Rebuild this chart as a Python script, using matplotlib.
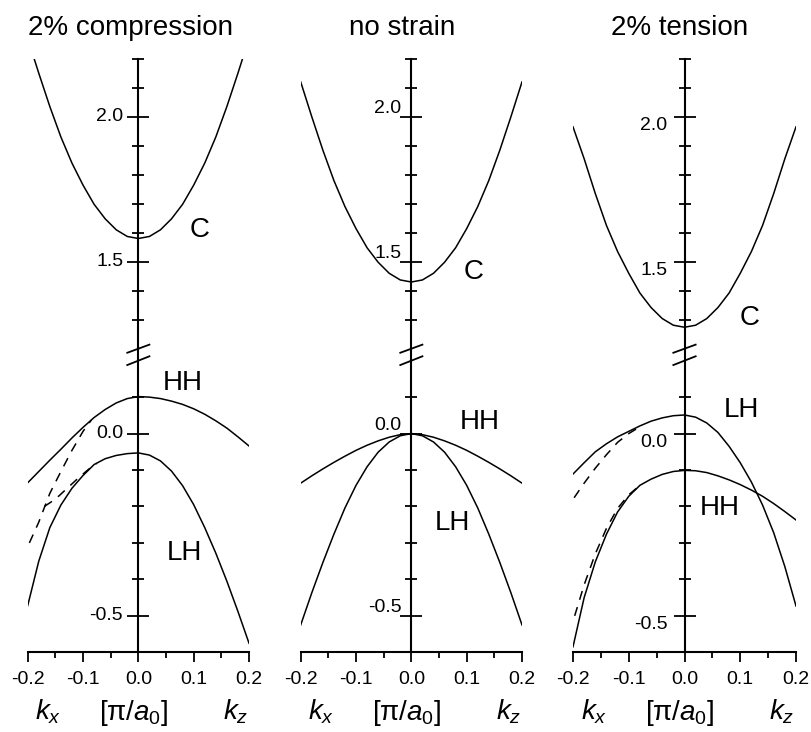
"""
Band dispersion near the zone centre (C, HH, LH) for 2% compression,
no strain and 2% tension, drawn with a broken energy axis.
"""

import matplotlib
matplotlib.use("Agg")
import matplotlib.pyplot as plt

PLOT_FILE = "out.png"

plt.rcParams["font.family"] = ["Liberation Sans", "DejaVu Sans"]
plt.rcParams["mathtext.fontset"] = "custom"
plt.rcParams["mathtext.rm"] = "Liberation Sans"
plt.rcParams["mathtext.it"] = "Liberation Sans:italic"
plt.rcParams["axes.unicode_minus"] = False

TITLES = ["2% compression", "no strain", "2% tension"]

# wave vector in pi/a0 (left half is kx, right half is kz)
K = [-0.20, -0.18, -0.16, -0.14, -0.12, -0.10, -0.08, -0.06, -0.04, -0.02, 0.00,
     0.02, 0.04, 0.06, 0.08, 0.10, 0.12, 0.14, 0.16, 0.18, 0.20]

# conduction band (eV)
C_COMP = [2.27, 2.15, 2.035, 1.93, 1.84, 1.764, 1.698, 1.648, 1.61, 1.587, 1.58,
          1.587, 1.61, 1.648, 1.698, 1.764, 1.84, 1.93, 2.035, 2.15, 2.27]
C_NONE = [2.12, 2.0, 1.885, 1.78, 1.69, 1.614, 1.548, 1.498, 1.46, 1.437, 1.43,
          1.437, 1.46, 1.498, 1.548, 1.614, 1.69, 1.78, 1.885, 2.0, 2.12]
C_TENS = [1.965, 1.855, 1.735, 1.625, 1.535, 1.46, 1.392, 1.342, 1.304, 1.281, 1.274,
          1.281, 1.304, 1.342, 1.392, 1.46, 1.535, 1.625, 1.735, 1.855, 1.965]

# valence bands (eV)
HH_COMP = [-0.135, -0.104, -0.073, -0.043, -0.012, 0.017, 0.044, 0.066, 0.084, 0.096, 0.1015,
           0.100, 0.096, 0.089, 0.080, 0.068, 0.053, 0.035, 0.015, -0.009, -0.034]
LH_COMP = [-0.472, -0.35, -0.258, -0.196, -0.150, -0.115, -0.085, -0.069, -0.060, -0.055, -0.053,
           -0.059, -0.075, -0.103, -0.143, -0.195, -0.258, -0.328, -0.405, -0.488, -0.575]
HH_NONE = [-0.136, -0.116, -0.097, -0.079, -0.062, -0.046, -0.032, -0.020, -0.010, -0.003, 0.0,
           -0.003, -0.010, -0.020, -0.032, -0.046, -0.062, -0.079, -0.097, -0.116, -0.136]
LH_NONE = [-0.525, -0.437, -0.354, -0.276, -0.204, -0.142, -0.091, -0.051, -0.023, -0.006, 0.0,
           -0.006, -0.023, -0.051, -0.091, -0.142, -0.204, -0.276, -0.354, -0.437, -0.525]
LH_TENS = [-0.111, -0.080, -0.050, -0.028, -0.009, 0.006, 0.021, 0.034, 0.043, 0.049, 0.051,
           0.045, 0.029, 0.003, -0.035, -0.080, -0.133, -0.196, -0.272, -0.365, -0.473]
HH_TENS = [-0.585, -0.45, -0.352, -0.276, -0.215, -0.172, -0.142, -0.125, -0.112, -0.104, -0.101,
           -0.102, -0.107, -0.116, -0.127, -0.140, -0.155, -0.172, -0.192, -0.214, -0.237]

# dashed kx curves (other model)
K_COMP_D1 = [-0.197, -0.18, -0.16, -0.14, -0.12, -0.10, -0.085]
E_COMP_D1 = [-0.300, -0.243, -0.164, -0.104, -0.046, 0.006, 0.037]
K_COMP_D2 = [-0.17, -0.15, -0.13, -0.11, -0.09, -0.075]
E_COMP_D2 = [-0.200, -0.180, -0.152, -0.124, -0.098, -0.082]
K_TENS_D1 = [-0.198, -0.18, -0.16, -0.14, -0.12, -0.10, -0.085, -0.075]
E_TENS_D1 = [-0.176, -0.136, -0.095, -0.058, -0.024, 0.0, 0.014, 0.022]
K_TENS_D2 = [-0.197, -0.18, -0.16, -0.14, -0.12, -0.10, -0.08]
E_TENS_D2 = [-0.50, -0.415, -0.33, -0.26, -0.205, -0.168, -0.142]

# band labels: (text, k, E)
LABELS_UP = [("C", 0.11, 1.61), ("C", 0.112, 1.464), ("C", 0.116, 1.306)]
LABELS_LO = [
    [("HH", 0.081, 0.139), ("LH", 0.084, -0.328)],
    [("HH", 0.124, 0.032), ("LH", 0.074, -0.245)],
    [("LH", 0.103, 0.064), ("HH", 0.064, -0.204)],
]

# layout in pixels
FIG_W, FIG_H = 811, 732
PANEL_LEFT = [27.7, 300.7, 573.0]
PANEL_WIDTH = [221.3, 221.3, 223.0]
UP_BOTTOM_PX, UP_TOP_PX = 348.7, 58.7
LO_BOTTOM_PX, LO_TOP_PX = 652.3, 349.0
LABEL_VA = ["center", "bottom", "top"]
LABEL_PAD = [3.0, -0.7, 4.3]
TITLE_X = [131, 402.5, 679.5]


def style_energy_axis(ax, i, major, minor):
    ax.set_xlim(-0.2, 0.2)
    ax.patch.set_visible(False)
    for side in ("top", "right"):
        ax.spines[side].set_visible(False)
    ax.spines["left"].set_position(("data", 0))
    ax.spines["left"].set_linewidth(1.5)
    ax.spines["bottom"].set_linewidth(1.5)
    ax.set_yticks(major)
    ax.set_yticklabels(["%.1f" % v for v in major])
    ax.set_yticks(minor, minor=True)
    ax.tick_params(axis="y", which="both", direction="inout", width=1.3,
                   labelsize=14, pad=LABEL_PAD[i])
    ax.tick_params(axis="y", which="major", length=15.8)
    ax.tick_params(axis="y", which="minor", length=8.6)
    for lab in ax.get_yticklabels():
        lab.set_va(LABEL_VA[i])


def draw_panel(fig, i, cond, solid, dashed):
    left = PANEL_LEFT[i] / FIG_W
    width = PANEL_WIDTH[i] / FIG_W
    ax_up = fig.add_axes([left, (FIG_H - UP_BOTTOM_PX) / FIG_H, width,
                          (UP_BOTTOM_PX - UP_TOP_PX) / FIG_H])
    ax_lo = fig.add_axes([left, (FIG_H - LO_BOTTOM_PX) / FIG_H, width,
                          (LO_BOTTOM_PX - LO_TOP_PX) / FIG_H])

    # upper part: conduction band
    ax_up.set_ylim(1.2, 2.2)
    style_energy_axis(ax_up, i, [1.5, 2.0], [1.3, 1.4, 1.6, 1.7, 1.8, 1.9, 2.1, 2.2])
    ax_up.spines["bottom"].set_visible(False)
    ax_up.set_xticks([])
    ax_up.plot(K, cond, color="black", lw=1.1)
    txt, kx, en = LABELS_UP[i]
    ax_up.text(kx, en, txt, fontsize=20, ha="center", va="center")

    # lower part: valence bands
    ax_lo.set_ylim(-0.6, 0.232)
    style_energy_axis(ax_lo, i, [-0.5, 0.0], [-0.4, -0.3, -0.2, -0.1, 0.1])
    for band in solid:
        ax_lo.plot(K, band, color="black", lw=1.1)
    for kk, ee in dashed:
        ax_lo.plot(kk, ee, color="black", lw=1.1, dashes=(6, 5))
    for txt, kx, en in LABELS_LO[i]:
        ax_lo.text(kx, en, txt, fontsize=20, ha="center", va="center")

    ax_lo.set_xticks([-0.2, -0.1, 0.0, 0.1, 0.2])
    ax_lo.set_xticklabels(["-0.2", "-0.1", "0.0", "0.1", "0.2"])
    ax_lo.set_xticks([-0.15, -0.05, 0.05, 0.15], minor=True)
    ax_lo.tick_params(axis="x", which="both", direction="out", width=1.3,
                      labelsize=14, pad=6.2)
    ax_lo.tick_params(axis="x", which="major", length=7.2)
    ax_lo.tick_params(axis="x", which="minor", length=4.3)

    # axis break marks
    ax_up.plot([-0.02, 0.02], [1.186, 1.214], color="black", lw=1.3, clip_on=False)
    ax_lo.plot([-0.02, 0.02], [0.188, 0.212], color="black", lw=1.3, clip_on=False)

    # title and k-axis captions
    fig.text(TITLE_X[i] / FIG_W, (FIG_H - 35) / FIG_H, TITLES[i],
             fontsize=20, ha="center", va="baseline")
    centre = PANEL_LEFT[i] + PANEL_WIDTH[i] / 2
    base = (FIG_H - 720) / FIG_H
    fig.text((centre - 90) / FIG_W, base, r"$k_x$", fontsize=20, ha="center", va="baseline")
    fig.text((centre - 5) / FIG_W, base, r"[π/$a_0$]", fontsize=20, ha="center", va="baseline")
    fig.text((centre + 97) / FIG_W, base, r"$k_z$", fontsize=20, ha="center", va="baseline")


def execute():
    fig = plt.figure(figsize=(FIG_W / 100, FIG_H / 100), dpi=100)
    draw_panel(fig, 0, C_COMP, [HH_COMP, LH_COMP],
               [(K_COMP_D1, E_COMP_D1), (K_COMP_D2, E_COMP_D2)])
    draw_panel(fig, 1, C_NONE, [HH_NONE, LH_NONE], [])
    draw_panel(fig, 2, C_TENS, [LH_TENS, HH_TENS],
               [(K_TENS_D1, E_TENS_D1), (K_TENS_D2, E_TENS_D2)])
    fig.savefig(PLOT_FILE, dpi=100)


if __name__ == "__main__":
    execute()
